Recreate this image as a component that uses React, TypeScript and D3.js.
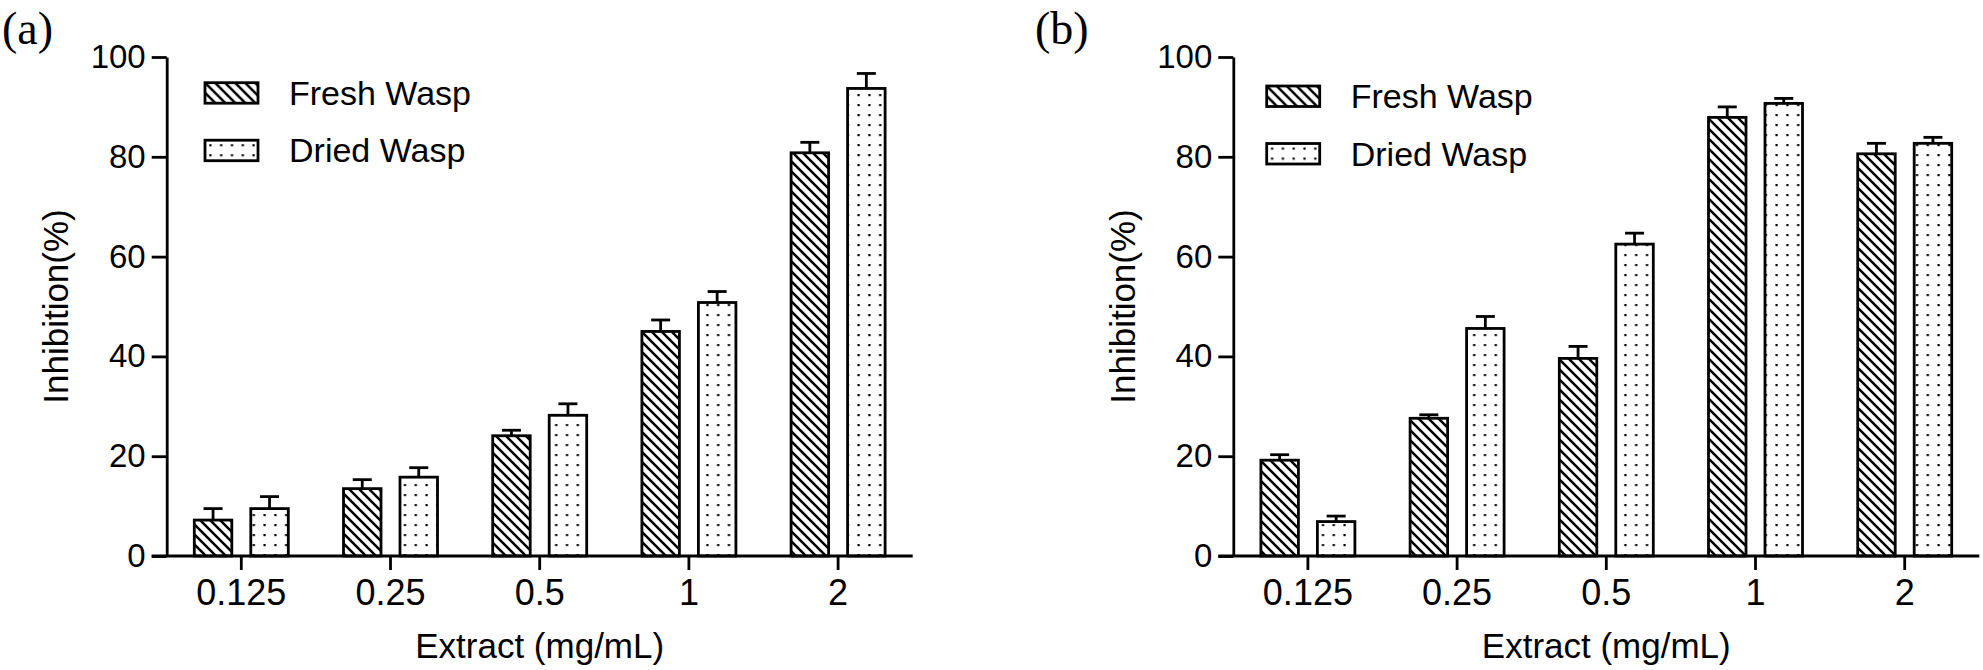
import React, { useEffect, useRef } from 'react';
import { select, scaleLinear, scaleBand, axisLeft, axisBottom } from 'd3';

const categories = ['0.125', '0.25', '0.5', '1', '2'];
const seriesNames = ['Fresh Wasp', 'Dried Wasp'];
const yTicks = [0, 20, 40, 60, 80, 100];

// panel (a)
const freshA = [7.2, 13.5, 24.1, 45.0, 80.8];
const freshAErr = [2.3, 1.8, 1.1, 2.3, 2.1];
const driedA = [9.5, 15.8, 28.2, 50.8, 93.7];
const driedAErr = [2.4, 1.9, 2.3, 2.2, 3.0];

// panel (b)
const freshB = [19.2, 27.6, 39.6, 87.9, 80.6];
const freshBErr = [1.1, 0.7, 2.4, 2.1, 2.1];
const driedB = [6.9, 45.6, 62.5, 90.7, 82.7];
const driedBErr = [1.1, 2.4, 2.2, 1.0, 1.2];

const W = 1983;
const H = 670;
const SANS = '"Liberation Sans", Arial, Helvetica, sans-serif';
const STROKE = 2.8;

const fills = ['url(#hatch)', 'url(#dots)'];

type PanelProps = {
  tag: string;
  tagX: number;
  left: number;
  legendDx: number;
  legendTop: number;
  fresh: number[];
  freshErr: number[];
  dried: number[];
  driedErr: number[];
};

const Panel: React.FC<PanelProps> = ({ tag, tagX, left, legendDx, legendTop, fresh, freshErr, dried, driedErr }) => {
  const yAxisRef = useRef<SVGGElement | null>(null);
  const xAxisRef = useRef<SVGGElement | null>(null);

  const y = scaleLinear().domain([0, 100]).range([556, 57]);
  const x = scaleBand().domain(categories).range([left, left + 746]).paddingInner(0).paddingOuter(0);
  const inner = scaleBand()
    .domain(seriesNames)
    .range([x.bandwidth() / 2 - 47, x.bandwidth() / 2 + 47])
    .paddingInner(0.336)
    .paddingOuter(0);

  const series = [
    { name: seriesNames[0], values: fresh, errs: freshErr },
    { name: seriesNames[1], values: dried, errs: driedErr },
  ];

  useEffect(() => {
    const ya = select(yAxisRef.current);
    ya.call(axisLeft(y).tickValues(yTicks).tickSize(15).tickSizeOuter(0).tickPadding(6) as any);
    ya.selectAll('path.domain').attr('stroke-width', STROKE);
    ya.selectAll('.tick line').attr('stroke-width', STROKE);
    ya.selectAll('.tick text')
      .attr('font-family', SANS)
      .attr('font-size', 33)
      .attr('fill', '#000');
    ya.attr('font-size', null).attr('font-family', null);

    const xa = select(xAxisRef.current);
    xa.call(axisBottom(x).tickSize(14).tickSizeOuter(0).tickPadding(9) as any);
    xa.selectAll('path.domain').remove();
    xa.selectAll('.tick line').attr('stroke-width', STROKE);
    xa.selectAll('.tick text')
      .attr('font-family', SANS)
      .attr('font-size', 36)
      .attr('fill', '#000');
    xa.attr('font-size', null).attr('font-family', null);
  }, []);

  return (
    <g>
      <text x={tagX} y={44} fontFamily='"Liberation Serif", "Times New Roman", serif' fontSize={46}>
        {tag}
      </text>

      {series.map((s, si) =>
        s.values.map((v, i) => {
          const bx = x(categories[i])! + inner(s.name)!;
          const bw = inner.bandwidth();
          const cx = bx + bw / 2;
          return (
            <g key={`${si}-${i}`}>
              <line x1={cx} x2={cx} y1={y(v)} y2={y(v + s.errs[i])} stroke="#000" strokeWidth={STROKE} />
              <line x1={cx - 9.5} x2={cx + 9.5} y1={y(v + s.errs[i])} y2={y(v + s.errs[i])} stroke="#000" strokeWidth={STROKE} />
              <rect x={bx} y={y(v)} width={bw} height={y(0) - y(v)} fill="#fff" />
              <rect x={bx} y={y(v)} width={bw} height={y(0) - y(v)} fill={fills[si]} stroke="#000" strokeWidth={STROKE} />
            </g>
          );
        })
      )}

      <line x1={left - 15} x2={left + 746} y1={y(0)} y2={y(0)} stroke="#000" strokeWidth={STROKE} />
      <g ref={yAxisRef} transform={`translate(${left},0)`} />
      <g ref={xAxisRef} transform={`translate(0,${y(0)})`} />

      <text
        transform={`translate(${left - 111},${(y(0) + y(100)) / 2}) rotate(-90)`}
        textAnchor="middle"
        dominantBaseline="central"
        fontFamily={SANS}
        fontSize={35}
      >
        Inhibition(%)
      </text>
      <text x={left + 373} y={658} textAnchor="middle" fontFamily={SANS} fontSize={35}>
        Extract (mg/mL)
      </text>

      {seriesNames.map((name, si) => (
        <g key={name} transform={`translate(${left + legendDx},${legendTop + si * 57.5})`}>
          <rect x={0} y={0} width={53} height={20.5} fill="#fff" />
          <rect x={0} y={0} width={53} height={20.5} fill={fills[si]} stroke="#000" strokeWidth={STROKE} />
          <text x={84} y={22} fontFamily={SANS} fontSize={34}>
            {name}
          </text>
        </g>
      ))}
    </g>
  );
};

const App: React.FC = () => {
  return (
    <div style={{ position: 'absolute', left: 0, top: 0 }}>
      <svg width={W} height={H} style={{ display: 'block', background: '#fff' }}>
        <defs>
          <pattern id="hatch" patternUnits="userSpaceOnUse" width={10} height={10}>
            <path d="M-2,-2 L12,12 M-2,8 L2,12 M8,-2 L12,2" stroke="#000" strokeWidth={2.5} />
          </pattern>
          <pattern id="dots" patternUnits="userSpaceOnUse" width={10.8} height={10}>
            <rect x={4.3} y={4} width={2.2} height={2.2} fill="#000" />
          </pattern>
        </defs>
        <Panel
          tag="(a)"
          tagX={2}
          left={166.7}
          legendDx={38.3}
          legendTop={82.7}
          fresh={freshA}
          freshErr={freshAErr}
          dried={driedA}
          driedErr={driedAErr}
        />
        <Panel
          tag="(b)"
          tagX={1035}
          left={1233.3}
          legendDx={33.4}
          legendTop={86}
          fresh={freshB}
          freshErr={freshBErr}
          dried={driedB}
          driedErr={driedBErr}
        />
      </svg>
    </div>
  );
};

export default App;
